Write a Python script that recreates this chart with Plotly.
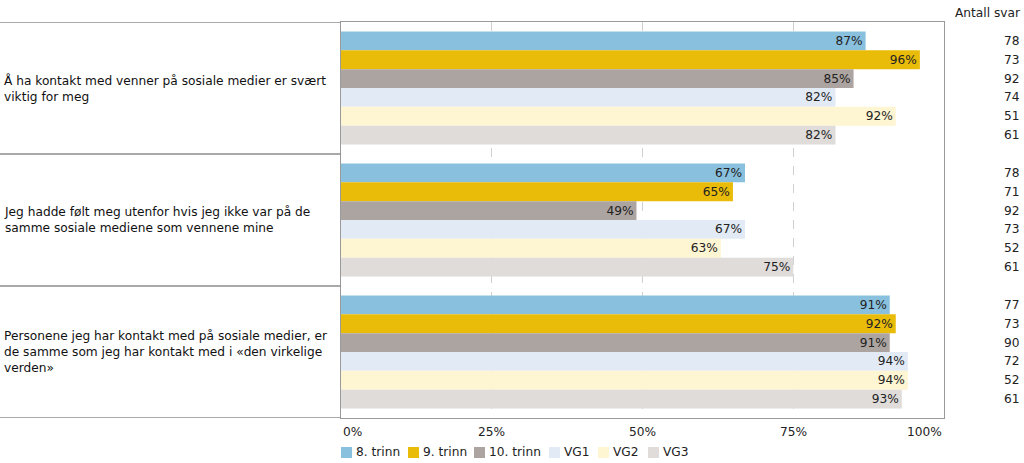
import plotly.graph_objects as go

questions = [
    "Å ha kontakt med venner på sosiale medier er svært<br>viktig for meg",
    "Jeg hadde følt meg utenfor hvis jeg ikke var på de<br>samme sosiale mediene som vennene mine",
    "Personene jeg har kontakt med på sosiale medier, er<br>de samme som jeg har kontakt med i «den virkelige<br>verden»",
]
series_names = ["8. trinn", "9. trinn", "10. trinn", "VG1", "VG2", "VG3"]
# percentages per series (one value per question)
pct_8 = [87, 67, 91]
pct_9 = [96, 65, 92]
pct_10 = [85, 49, 91]
pct_vg1 = [82, 67, 94]
pct_vg2 = [92, 63, 94]
pct_vg3 = [82, 75, 93]
# number of answers per series (one value per question)
n_8 = [78, 78, 77]
n_9 = [73, 71, 73]
n_10 = [92, 92, 90]
n_vg1 = [74, 73, 72]
n_vg2 = [51, 52, 52]
n_vg3 = [61, 61, 61]
tick_vals = [0, 25, 50, 75, 100]
tick_text = ["0%", "25%", "50%", "75%", "100%"]
count_header = "Antall svar"

values = [pct_8, pct_9, pct_10, pct_vg1, pct_vg2, pct_vg3]
counts = [n_8, n_9, n_10, n_vg1, n_vg2, n_vg3]
colors = ["#89C0DE", "#EABC0A", "#ACA4A0", "#E1EAF5", "#FEF5D2", "#DFDCDA"]

W, H = 1024, 463
L, R, T, B = 341, 80, 22, 45
PW = W - L - R
PH = H - T - B
FONT = "DejaVu Sans, Verdana, sans-serif"
FS = 12.2
BARGAP = 0.144
LEGEND_X = [341, 408, 474, 549, 598, 648]  # swatch left edges (px)
LEGEND_Y = 452

def px_to_paper_x(px):
    return (px - L) / PW

def px_to_paper_y(py):
    return 1 - (py - T) / PH

cat_idx = list(range(len(questions)))

fig = go.Figure()
for name, vals, col in zip(series_names, values, colors):
    fig.add_trace(go.Bar(
        name=name, y=cat_idx, x=vals, orientation="h",
        marker=dict(color=col, line=dict(width=0)),
        text=[f"{v}%" for v in vals], textposition="inside",
        insidetextanchor="end", textangle=0,
        textfont=dict(family=FONT, size=FS, color="#222222"),
        hoverinfo="skip", showlegend=False,
    ))

annotations = []
shapes = []
# question labels on the left
for i, q in enumerate(questions):
    annotations.append(dict(
        xref="paper", yref="y", x=px_to_paper_x(2), y=i,
        xanchor="left", yanchor="middle", align="left",
        text=q, showarrow=False,
        font=dict(family=FONT, size=FS, color="#111111"),
    ))
# separator lines in left panel
for b in [-0.5, 0.5, 1.5, 2.5]:
    shapes.append(dict(
        type="line", xref="paper", yref="y",
        x0=px_to_paper_x(0), x1=0, y0=b, y1=b,
        line=dict(color="#8C8C8C", width=1.5),
    ))
# count column
n = len(series_names)
gw = 1 - BARGAP
for j in range(n):
    off = -gw / 2 + (j + 0.5) * gw / n
    for i in cat_idx:
        annotations.append(dict(
            xref="paper", yref="y", x=px_to_paper_x(1022), y=i + off,
            xanchor="right", yanchor="middle", text=str(counts[j][i]),
            showarrow=False, font=dict(family=FONT, size=FS, color="#222222"),
        ))
annotations.append(dict(
    xref="paper", yref="paper", x=px_to_paper_x(1023), y=px_to_paper_y(13),
    xanchor="right", yanchor="middle", text=count_header, showarrow=False,
    font=dict(family=FONT, size=FS, color="#222222"),
))
# x tick labels (first left-justified, last right-justified)
for k, (tv, tt) in enumerate(zip(tick_vals, tick_text)):
    if k == 0:
        xa = "left"
    elif k == len(tick_vals) - 1:
        xa = "right"
    else:
        xa = "center"
    annotations.append(dict(
        xref="x", yref="paper", x=tv, y=px_to_paper_y(432),
        xanchor=xa, yanchor="middle", text=tt, showarrow=False,
        font=dict(family=FONT, size=FS, color="#222222"),
    ))
# manual legend
for name, col, lx in zip(series_names, colors, LEGEND_X):
    shapes.append(dict(
        type="rect", xref="paper", yref="paper",
        x0=px_to_paper_x(lx), x1=px_to_paper_x(lx + 11),
        y0=px_to_paper_y(LEGEND_Y + 6), y1=px_to_paper_y(LEGEND_Y - 5),
        fillcolor=col, line=dict(width=0),
    ))
    annotations.append(dict(
        xref="paper", yref="paper", x=px_to_paper_x(lx + 13),
        y=px_to_paper_y(LEGEND_Y), xanchor="left", yanchor="middle",
        text=name, showarrow=False,
        font=dict(family=FONT, size=FS, color="#222222"),
    ))

fig.update_layout(
    width=W, height=H,
    margin=dict(l=L, r=R, t=T, b=B, pad=0, autoexpand=False),
    paper_bgcolor="white", plot_bgcolor="white",
    barmode="group", bargap=BARGAP, bargroupgap=0,
    font=dict(family=FONT, size=FS, color="#222222"),
    showlegend=False,
    xaxis=dict(
        range=[0, 100], tickvals=tick_vals, showticklabels=False,
        showgrid=True, gridcolor="#D0D0D0", griddash="dash", gridwidth=1,
        zeroline=False, showline=True, linecolor="#9A9A9A", linewidth=1,
        mirror=True, ticks="",
    ),
    yaxis=dict(
        range=[2.5, -0.5], showticklabels=False, showgrid=False,
        zeroline=False, showline=True, linecolor="#9A9A9A", linewidth=1,
        mirror=True, ticks="",
    ),
    annotations=annotations, shapes=shapes,
    uniformtext=dict(minsize=12, mode="show"),
)

fig.write_html(
    "out.html",
    config={"displayModeBar": False},
    post_script="document.body.style.margin='0px';document.body.style.overflow='hidden';",
)
